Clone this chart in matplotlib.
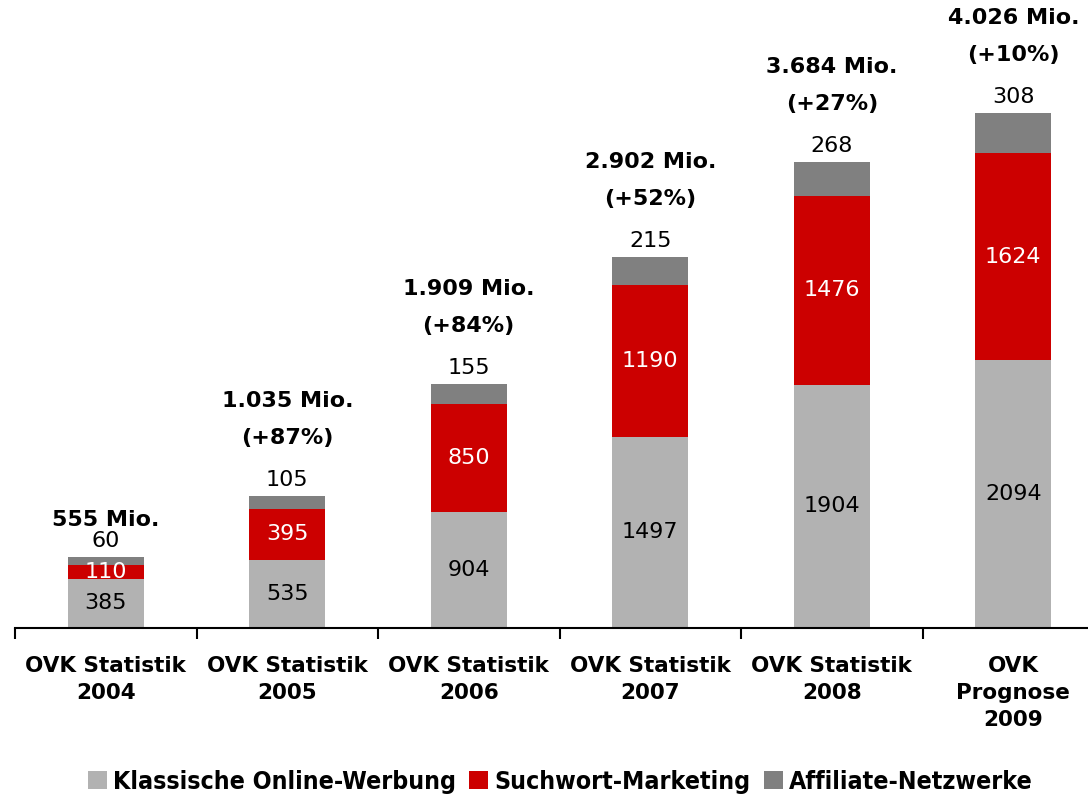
import matplotlib
matplotlib.use("Agg")
import matplotlib.pyplot as plt
import numpy as np

categories = ["OVK Statistik\n2004", "OVK Statistik\n2005", "OVK Statistik\n2006",
              "OVK Statistik\n2007", "OVK Statistik\n2008", "OVK\nPrognose\n2009"]
klassisch = [385, 535, 904, 1497, 1904, 2094]
suchwort = [110, 395, 850, 1190, 1476, 1624]
affiliate = [60, 105, 155, 215, 268, 308]
totals = ["555 Mio.", "1.035 Mio.", "1.909 Mio.", "2.902 Mio.", "3.684 Mio.", "4.026 Mio."]
growth = [None, "(+87%)", "(+84%)", "(+52%)", "(+27%)", "(+10%)"]
series_names = ["Klassische Online-Werbung", "Suchwort-Marketing", "Affiliate-Netzwerke"]

c_gray = "#B2B2B2"
c_red = "#CC0000"
c_dark = "#808080"

W, H = 1088, 797
fig = plt.figure(figsize=(W / 100, H / 100), dpi=100)
ax_left_px, ax_base_px = 15, 628
cat_w = 181.5
ax = fig.add_axes([ax_left_px / W, (H - ax_base_px) / H, (W - ax_left_px) / W, ax_base_px / H])
px_per_unit = 0.1278

x = np.arange(len(categories))
bw = 0.42
k = np.array(klassisch); s = np.array(suchwort); a = np.array(affiliate)
ax.bar(x, k, bw, color=c_gray, label=series_names[0])
ax.bar(x, s, bw, bottom=k, color=c_red, label=series_names[1])
ax.bar(x, a, bw, bottom=k + s, color=c_dark, label=series_names[2])

def px(v):
    return v / px_per_unit

fs = 16
for i in range(len(x)):
    ax.text(x[i], k[i] / 2, str(k[i]), ha="center", va="center", fontsize=fs, color="black")
    ax.text(x[i], k[i] + s[i] / 2, str(s[i]), ha="center", va="center", fontsize=fs, color="white")
    top = k[i] + s[i] + a[i]
    ax.text(x[i], top + px(16), str(a[i]), ha="center", va="center", fontsize=fs, color="black")
    if growth[i] is None:
        ax.text(x[i], top + px(37), totals[i], ha="center", va="center", fontsize=fs,
                fontweight="bold", color="black")
    else:
        ax.text(x[i], top + px(58), growth[i], ha="center", va="center", fontsize=fs,
                fontweight="bold", color="black")
        ax.text(x[i], top + px(95), totals[i], ha="center", va="center", fontsize=fs,
                fontweight="bold", color="black")

for sp in ["top", "right", "left"]:
    ax.spines[sp].set_visible(False)
ax.spines["bottom"].set_linewidth(1.5)
ax.set_yticks([])
ax.set_xticks(x)
ax.set_xticklabels(categories, fontsize=15.5, fontweight="bold", linespacing=1.45)
ax.tick_params(axis="x", which="major", length=0, pad=20)
ax.set_xticks(np.arange(-0.5, 6.0, 1.0), minor=True)
ax.tick_params(axis="x", which="minor", length=8, width=1.5, direction="out")
ax.set_ylim(0, ax_base_px / px_per_unit)
ax.set_xlim(-0.5, -0.5 + (W - ax_left_px) / cat_w)

leg = fig.legend(loc="center", bbox_to_anchor=(0.515, 1 - 782 / H), ncol=3, frameon=False,
                 fontsize=17.9, handlelength=0.75, handleheight=0.75, handletextpad=0.25,
                 columnspacing=0.55, borderaxespad=0)
for t in leg.get_texts():
    t.set_fontstretch("condensed")
    t.set_fontweight("bold")

fig.savefig("out.png", dpi=100)
